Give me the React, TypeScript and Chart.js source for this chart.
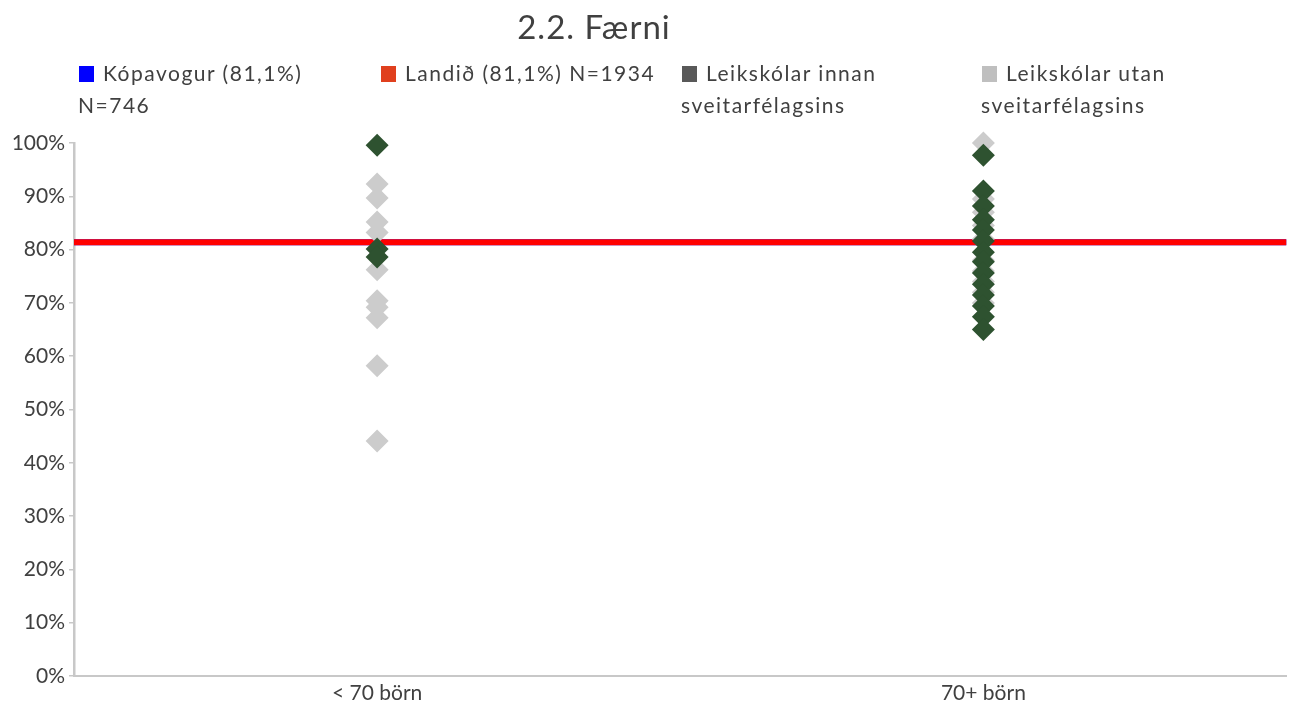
import React, { useEffect, useRef } from "react";
import { Chart, registerables } from "chart.js";

Chart.register(...registerables);

const categories = ["< 70 börn", "70+ börn"];
const innanSmall = [99.6, 80.1, 78.6];
const innanLarge = [97.7, 91.0, 88.2, 85.6, 83.7, 81.6, 79.5, 77.7, 75.6, 73.5, 71.5, 69.4, 67.4, 65.0];
const utanSmall = [92.3, 89.7, 85.2, 83.2, 76.2, 70.4, 69.2, 67.2, 58.2, 44.1];
const utanLarge = [100, 89.5, 87.0, 84.5, 82.0, 78.0, 76.0, 74.0, 72.0, 70.0];
const kopavogurValue = 81.4;
const landidValue = 81.4;
const yTicks = [0, 10, 20, 30, 40, 50, 60, 70, 80, 90, 100];

const titleText = "2.2. Færni";
const legendItems = [
  { text: "Kópavogur (81,1%) N=746", color: "#0000FF", left: 78 },
  { text: "Landið (81,1%) N=1934", color: "#E0401E", left: 380 },
  { text: "Leikskólar innan sveitarfélagsins", color: "#595959", left: 681 },
  { text: "Leikskólar utan sveitarfélagsins", color: "#BFBFBF", left: 981 },
];

const FONT = "Lato, 'Open Sans', sans-serif";

export default function App() {
  const ref = useRef<HTMLCanvasElement | null>(null);

  useEffect(() => {
    if (!ref.current) return;
    const pts = (cat: string, vals: number[]) => vals.map((v) => ({ x: cat, y: v }));
    const chart = new Chart(ref.current, {
      type: "line",
      data: {
        labels: categories,
        datasets: [
          {
            label: "Leikskólar innan sveitarfélagsins",
            data: [...pts(categories[0], innanSmall), ...pts(categories[1], innanLarge)],
            showLine: false,
            clip: false,
            pointStyle: "rectRot",
            pointRadius: 11.5,
            pointBackgroundColor: "#2E5230",
            pointBorderWidth: 0,
            borderColor: "#2E5230",
            backgroundColor: "#2E5230",
            order: 0,
          } as any,
          {
            label: "Leikskólar utan sveitarfélagsins",
            data: [...pts(categories[0], utanSmall), ...pts(categories[1], utanLarge)],
            showLine: false,
            clip: false,
            pointStyle: "rectRot",
            pointRadius: 11.5,
            pointBackgroundColor: "#CCCCCC",
            pointBorderWidth: 0,
            borderColor: "#CCCCCC",
            backgroundColor: "#CCCCCC",
            order: 1,
          } as any,
          {
            label: "Landið",
            xAxisID: "x2",
            data: [
              { x: 0, y: landidValue },
              { x: 1, y: landidValue },
            ],
            borderColor: "#FF0000",
            borderWidth: 6,
            pointRadius: 0,
            order: 2,
          } as any,
          {
            label: "Kópavogur",
            xAxisID: "x2",
            data: [
              { x: 0, y: kopavogurValue },
              { x: 1, y: kopavogurValue },
            ],
            borderColor: "#0000FF",
            borderWidth: 6,
            pointRadius: 0,
            order: 3,
          } as any,
        ],
      },
      options: {
        responsive: false,
        animation: false,
        layout: { padding: { left: 0, right: 10, top: 143, bottom: 0 } },
        plugins: {
          legend: { display: false },
          title: { display: false },
          tooltip: { enabled: false },
        },
        scales: {
          x: {
            type: "category",
            offset: true,
            grid: { display: true, drawOnChartArea: false, drawTicks: false },
            border: { display: true, color: "#C8C8C8", width: 2 },
            ticks: {
              color: "#404040",
              font: { family: FONT, size: 21 },
              padding: 5,
            },
            afterFit: (s: any) => {
              s.height = 28;
            },
          },
          x2: {
            type: "linear",
            min: 0,
            max: 1,
            display: false,
          },
          y: {
            type: "linear",
            min: 0,
            max: 100,
            afterBuildTicks: (s: any) => {
              s.ticks = yTicks.map((v) => ({ value: v }));
            },
            grid: { display: true, drawOnChartArea: false, tickLength: 5, color: "#C8C8C8", lineWidth: 1.5 },
            border: { display: true, color: "#C8C8C8", width: 2.5 },
            ticks: {
              color: "#404040",
              font: { family: FONT, size: 21 },
              padding: 4,
              callback: (v: any) => v + "%",
            },
            afterFit: (s: any) => {
              s.width = 74;
            },
          },
        },
      } as any,
    });
    return () => chart.destroy();
  }, []);

  return (
    <div style={{ position: "absolute", left: 0, top: 0, width: 1298, height: 704, background: "#fff", fontFamily: FONT }}>
      <canvas ref={ref} width={1298} height={704} style={{ position: "absolute", left: 0, top: 0 }} />
      <div
        style={{
          position: "absolute",
          left: 394,
          width: 400,
          top: 5,
          textAlign: "center",
          fontSize: 33,
          color: "#404040",
          letterSpacing: 1,
          lineHeight: "42px",
        }}
      >
        {titleText}
      </div>
      {legendItems.map((it) => (
        <div
          key={it.text}
          style={{
            position: "absolute",
            left: it.left,
            top: 57,
            width: 298,
            fontSize: 21,
            lineHeight: "32px",
            color: "#404040",
            letterSpacing: 1.5,
          }}
        >
          <span
            style={{
              display: "inline-block",
              width: 15,
              height: 16,
              background: it.color,
              marginRight: 9,
              marginLeft: 1,
              verticalAlign: "-1px",
            }}
          />
          {it.text}
        </div>
      ))}
    </div>
  );
}
